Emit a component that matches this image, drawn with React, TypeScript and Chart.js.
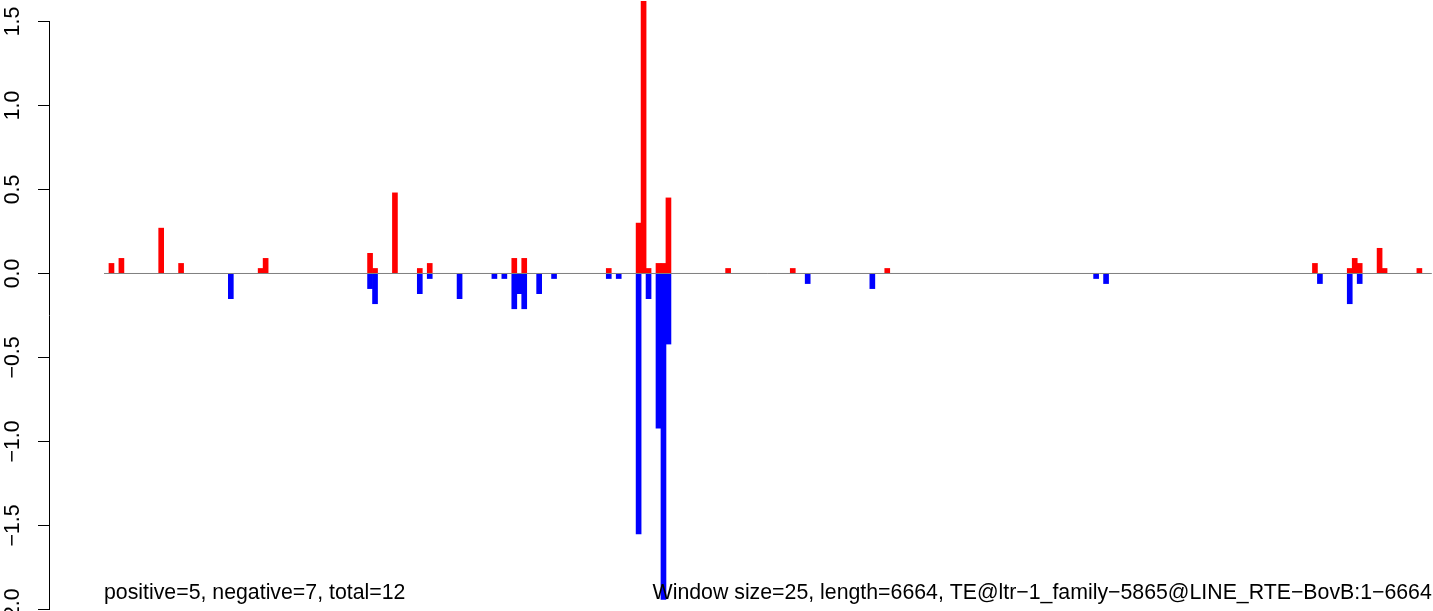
import { useEffect, useRef } from "react";
import { Chart, registerables } from "chart.js";

Chart.register(...registerables);

// Window index (1..267, window size 25 over length 6664) and scores
const POS_WINDOWS = [2, 4, 12, 16, 32, 33, 54, 55, 59, 64, 66, 83, 85, 102, 108, 109, 110, 112, 113, 114, 126, 139, 158, 244, 251, 252, 253, 257, 258, 265];
const POS_VALUES = [0.06, 0.09, 0.27, 0.06, 0.03, 0.09, 0.12, 0.03, 0.48, 0.03, 0.06, 0.09, 0.09, 0.03, 0.30, 1.62, 0.03, 0.06, 0.06, 0.45, 0.03, 0.03, 0.03, 0.06, 0.03, 0.09, 0.06, 0.15, 0.03, 0.03];

const NEG_WINDOWS = [26, 54, 55, 64, 66, 72, 79, 81, 83, 84, 85, 88, 91, 102, 104, 108, 110, 112, 113, 114, 142, 155, 200, 202, 245, 251, 253];
const NEG_VALUES = [-0.15, -0.09, -0.18, -0.12, -0.03, -0.15, -0.03, -0.03, -0.21, -0.12, -0.21, -0.12, -0.03, -0.03, -0.03, -1.55, -0.15, -0.92, -1.94, -0.42, -0.06, -0.09, -0.03, -0.06, -0.06, -0.18, -0.06];

const BASELINE_X = [0.5, 267.5];
const Y_TICKS = [-2.0, -1.5, -1.0, -0.5, 0.0, 0.5, 1.0, 1.5];

const LEFT_TEXT = "positive=5, negative=7, total=12";
const RIGHT_TEXT = "Window size=25, length=6664, TE@ltr\u22121_family\u22125865@LINE_RTE\u2212BovB:1\u22126664";

const X_MIN = -10.36;
const X_MAX = 267.74;
const Y_MIN = -2.009;
const Y_MAX = 1.628;

const FONT = '"Liberation Sans", Arial, Helvetica, sans-serif';
const FONT_SIZE = 21.3;

const fmt = (v: number) => {
  const s = Math.abs(v).toFixed(1);
  return v < 0 ? "\u2212" + s : s;
};

const annotPlugin = {
  id: "annot",
  afterDraw(chart: any) {
    const { ctx, scales, chartArea } = chart;
    const x = scales.x;
    const y = scales.y;
    ctx.save();
    const ax = Math.round(y.right) - 0.5;
    ctx.strokeStyle = "#000";
    ctx.lineWidth = 1;
    ctx.beginPath();
    ctx.moveTo(ax, y.getPixelForValue(Y_TICKS[0]));
    ctx.lineTo(ax, y.getPixelForValue(Y_TICKS[Y_TICKS.length - 1]));
    ctx.stroke();

    ctx.font = `${FONT_SIZE}px ${FONT}`;
    ctx.fillStyle = "#000";
    ctx.textBaseline = "alphabetic";
    const ty = chartArea.bottom - 12;
    ctx.textAlign = "left";
    ctx.fillText(LEFT_TEXT, x.getPixelForValue(BASELINE_X[0]), ty);
    ctx.textAlign = "right";
    ctx.fillText(RIGHT_TEXT, x.getPixelForValue(BASELINE_X[1]), ty);
    ctx.restore();
  },
};

export default function App() {
  const ref = useRef<HTMLCanvasElement | null>(null);

  useEffect(() => {
    if (!ref.current) return;
    const chart = new Chart(ref.current, {
      type: "bar",
      data: {
        datasets: [
          {
            type: "line",
            label: "baseline",
            data: BASELINE_X.map((x) => ({ x, y: 0 })),
            borderColor: "#7f7f7f",
            borderWidth: 1,
            pointRadius: 0,
            fill: false,
            order: 0,
          } as any,
          {
            label: "positive",
            data: POS_WINDOWS.map((x, i) => ({ x, y: POS_VALUES[i] })),
            backgroundColor: "#ff0000",
            borderWidth: 0,
            barThickness: 5,
            grouped: false,
            order: 1,
          },
          {
            label: "negative",
            data: NEG_WINDOWS.map((x, i) => ({ x, y: NEG_VALUES[i] })),
            backgroundColor: "#0000ff",
            borderWidth: 0,
            barThickness: 5,
            grouped: false,
            order: 1,
          },
        ],
      },
      options: {
        animation: false,
        responsive: false,
        devicePixelRatio: 1,
        layout: { padding: 0 },
        plugins: { legend: { display: false }, tooltip: { enabled: false } },
        scales: {
          x: {
            type: "linear",
            min: X_MIN,
            max: X_MAX,
            offset: false,
            display: false,
          },
          y: {
            type: "linear",
            min: Y_MIN,
            max: Y_MAX,
            afterFit: (s: any) => {
              s.width = 50;
              s.paddingTop = 0;
              s.paddingBottom = 0;
            },
            afterBuildTicks: (s: any) => {
              s.ticks = Y_TICKS.map((v) => ({ value: v }));
            },
            border: { display: false },
            grid: {
              drawOnChartArea: false,
              drawTicks: true,
              tickLength: 12,
              color: "#000",
              lineWidth: 1,
            },
            ticks: {
              minRotation: 90,
              maxRotation: 90,
              crossAlign: "center",
              padding: 4,
              color: "#000",
              font: { family: FONT, size: FONT_SIZE },
              callback: (v: any) => fmt(Number(v)),
            },
          },
        },
      },
      plugins: [annotPlugin],
    } as any);
    return () => chart.destroy();
  }, []);

  return (
    <div style={{ position: "fixed", left: 0, top: 0, width: 1433, height: 611, background: "#fff" }}>
      <canvas ref={ref} width={1433} height={611} style={{ display: "block" }} />
    </div>
  );
}
